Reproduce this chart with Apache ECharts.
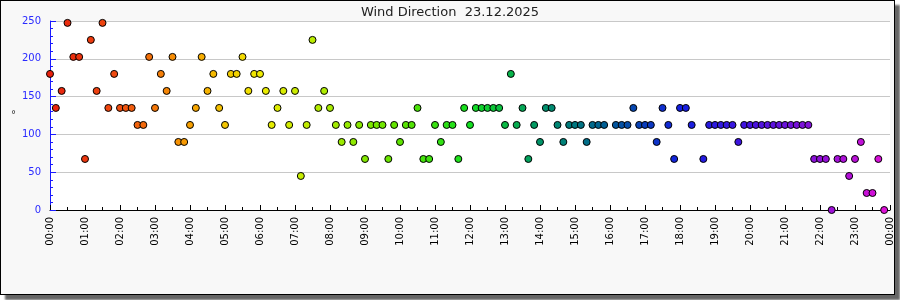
<!DOCTYPE html>
<html>
<head>
<meta charset="utf-8">
<script src="https://cdn.jsdelivr.net/npm/echarts@6/dist/echarts.min.js"></script>
<style>
  html, body { margin: 0; padding: 0; background: #ffffff; }
  #frame { position: absolute; left: 0; top: 0; width: 893px; height: 293px; border: 1px solid #000; background: #f8f8f8; box-shadow: 5px 5px 2px #666; }
  #chart { position: absolute; left: 0; top: 0; width: 900px; height: 300px; }
</style>
</head>
<body>
<div id="frame"></div>
<div id="chart"></div>
<script>
const chartTitle = 'Wind Direction  23.12.2025';
const axisUnit = '°';

const times = [
  '00:00','00:10','00:20','00:30','00:40','00:50',
  '01:00','01:10','01:20','01:30','01:40','01:50',
  '02:00','02:10','02:20','02:30','02:40','02:50',
  '03:00','03:10','03:20','03:30','03:40','03:50',
  '04:00','04:10','04:20','04:30','04:40','04:50',
  '05:00','05:10','05:20','05:30','05:40','05:50',
  '06:00','06:10','06:20','06:30','06:40','06:50',
  '07:00','07:10','07:20','07:30','07:40','07:50',
  '08:00','08:10','08:20','08:30','08:40','08:50',
  '09:00','09:10','09:20','09:30','09:40','09:50',
  '10:00','10:10','10:20','10:30','10:40','10:50',
  '11:00','11:10','11:20','11:30','11:40','11:50',
  '12:00','12:10','12:20','12:30','12:40','12:50',
  '13:00','13:10','13:20','13:30','13:40','13:50',
  '14:00','14:10','14:20','14:30','14:40','14:50',
  '15:00','15:10','15:20','15:30','15:40','15:50',
  '16:10','16:20','16:30','16:40','16:50',
  '17:00','17:10','17:20','17:30','17:40','17:50',
  '18:00','18:10','18:20','18:40','18:50',
  '19:00','19:10','19:20','19:30','19:40','19:50',
  '20:00','20:10','20:20','20:30','20:40','20:50',
  '21:00','21:10','21:20','21:30','21:40','21:50',
  '22:00','22:10','22:20','22:30','22:40','22:50',
  '23:00','23:10','23:20','23:30','23:40','23:50'
];

const directions = [
  180, 135, 157.5, 247.5, 202.5, 202.5,
  67.5, 225, 157.5, 247.5, 135, 180,
  135, 135, 135, 112.5, 112.5, 202.5,
  135, 180, 157.5, 202.5, 90, 90,
  112.5, 135, 202.5, 157.5, 180, 135,
  112.5, 180, 180, 202.5, 157.5, 180,
  180, 157.5, 112.5, 135, 157.5, 112.5,
  157.5, 45, 112.5, 225, 135, 157.5,
  135, 112.5, 90, 112.5, 90, 112.5,
  67.5, 112.5, 112.5, 112.5, 67.5, 112.5,
  90, 112.5, 112.5, 135, 67.5, 67.5,
  112.5, 90, 112.5, 112.5, 67.5, 135,
  112.5, 135, 135, 135, 135, 135,
  112.5, 180, 112.5, 135, 67.5, 112.5,
  90, 135, 135, 112.5, 90, 112.5,
  112.5, 112.5, 90, 112.5, 112.5, 112.5,
  112.5, 112.5, 112.5, 135, 112.5,
  112.5, 112.5, 90, 135, 112.5, 67.5,
  135, 135, 112.5, 67.5, 112.5,
  112.5, 112.5, 112.5, 112.5, 90, 112.5,
  112.5, 112.5, 112.5, 112.5, 112.5, 112.5,
  112.5, 112.5, 112.5, 112.5, 112.5, 67.5,
  67.5, 67.5, 0, 67.5, 67.5, 45,
  67.5, 90, 22.5, 22.5, 67.5, 0
];

// colour ramp over the day (every 2 hours)
const dayColors = ['#e8200c','#f04e10','#f8a000','#f0ec00','#a8ec00','#5ee400','#12e020','#009468','#005a98','#1420e0','#4412e0','#9010d8','#e410d8'];

function toMinutes(t) { const p = t.split(':'); return (+p[0]) * 60 + (+p[1]); }
function fmt(m) { m = m % 1440; const h = Math.floor(m / 60), mm = m % 60; return (h < 10 ? '0' : '') + h + ':' + (mm < 10 ? '0' : '') + mm; }

const points = times.map((t, i) => [toMinutes(t), directions[i]]);

const font = 'DejaVu Sans';
const chart = echarts.init(document.getElementById('chart'), null, { renderer: 'canvas' });
chart.setOption({
  backgroundColor: 'transparent',
  animation: false,
  title: {
    text: chartTitle, left: 'center', top: 1,
    textStyle: { fontFamily: font, fontSize: 13, fontWeight: 'normal', color: '#222' }
  },
  grid: { left: 50, right: 10, top: 21, bottom: 90, show: true, backgroundColor: '#ffffff', borderWidth: 0 },
  visualMap: { show: false, type: 'continuous', dimension: 0, min: 0, max: 1440, inRange: { color: dayColors } },
  xAxis: {
    type: 'value', min: 0, max: 1440, interval: 60,
    axisLine: { show: true, lineStyle: { color: '#000', width: 1 } },
    axisTick: { show: true, inside: true, length: 5, lineStyle: { color: '#000' } },
    minorTick: { show: true, splitNumber: 2, length: 3, lineStyle: { color: '#000' } },
    splitLine: { show: false },
    axisLabel: { rotate: 90, margin: 7, fontFamily: font, fontSize: 10, color: '#000', showMaxLabel: true, showMinLabel: true, formatter: v => fmt(v) }
  },
  yAxis: {
    type: 'value', min: 0, max: 250, interval: 50,
    name: axisUnit, nameLocation: 'middle', nameGap: 29, nameRotate: 0,
    nameTextStyle: { fontFamily: font, fontSize: 10, color: '#333' },
    axisLine: { show: true, lineStyle: { color: '#1a1aff', width: 1 } },
    axisTick: { show: true, inside: true, length: 6, lineStyle: { color: '#1a1aff' } },
    minorTick: { show: true, splitNumber: 5, length: 3, lineStyle: { color: '#1a1aff' } },
    splitLine: { show: true, lineStyle: { color: '#c8c8c8', width: 1 } },
    axisLabel: { margin: 9, fontFamily: font, fontSize: 10, color: '#2a2aff' }
  },
  series: [{
    type: 'scatter',
    data: points,
    symbol: 'circle',
    symbolSize: 7,
    itemStyle: { borderColor: '#000', borderWidth: 1, opacity: 1 },
    z: 5
  }]
});
</script>
</body>
</html>
